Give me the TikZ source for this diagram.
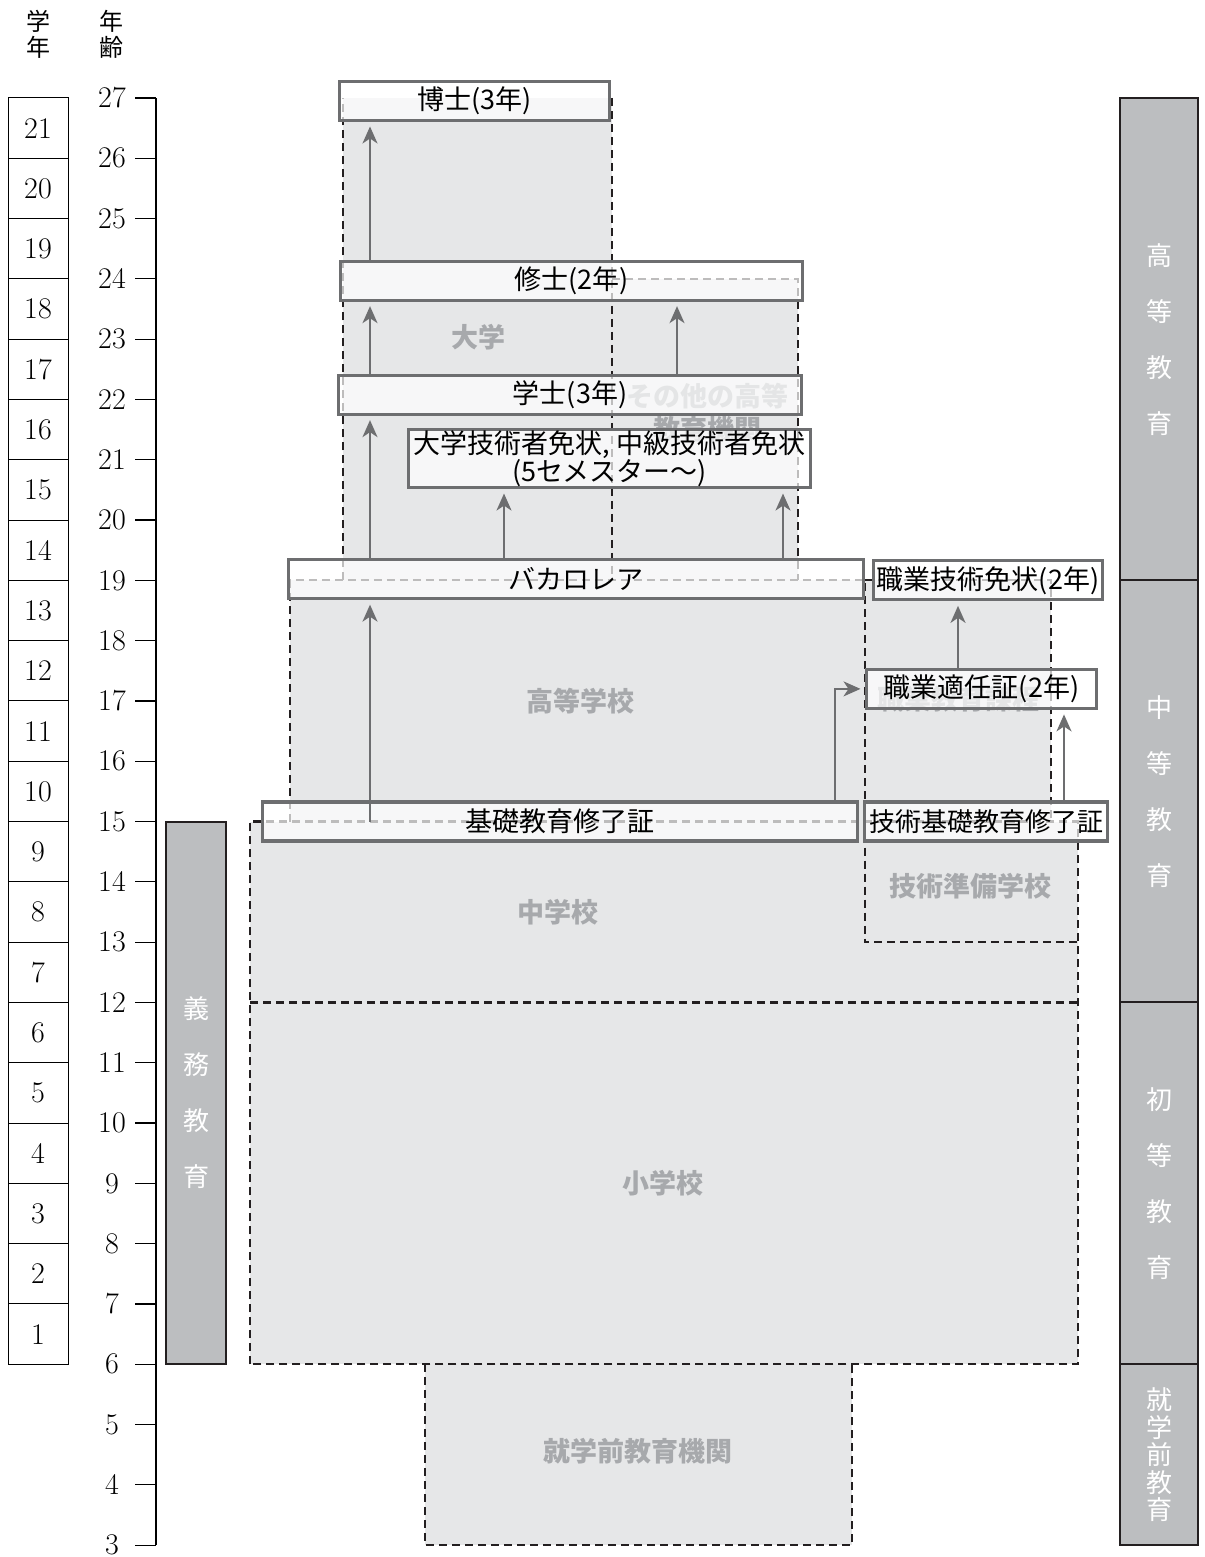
\documentclass[tikz,border=0pt]{standalone}
\usepackage{fontspec}
\usetikzlibrary{arrows.meta}
\newfontfamily\jp{Noto Sans CJK JP}

\definecolor{regfill}{RGB}{230,231,232}
\definecolor{boxline}{RGB}{109,110,112}
\definecolor{reglabel}{RGB}{167,169,172}
\definecolor{barfill}{RGB}{188,190,192}
\definecolor{inkline}{RGB}{35,31,32}

\tikzset{
	region/.style = {fill = regfill},
	regedge/.style = {draw = inkline, line width = 1.1pt, dash pattern = on 4pt off 2.5pt},
	reglab/.style = {text = reglabel, font = \jp\bfseries\fontsize{13.5}{16.5}\selectfont, align = center},
	cert/.style = {draw = boxline, line width = 1.6pt, fill = white, fill opacity = 0.7, text opacity = 1,
		font = \jp\fontsize{13.5}{15}\selectfont, align = center, minimum height = 19.5pt, inner sep = 0pt},
	arr/.style = {draw = boxline, line width = 1pt, shorten > = 2.2pt, -{Stealth[length = 8.5pt, width = 7.5pt, inset = 2.5pt]}},
	bar/.style = {fill = barfill, draw = inkline, line width = 1pt},
	bartext/.style = {text = white, font = \jp\fontsize{13}{28}\selectfont, align = center},
	num/.style = {font = \fontsize{15}{18}\selectfont},
	head/.style = {font = \jp\fontsize{12}{13}\selectfont, align = center}
}

\begin{document}
\begin{tikzpicture}[x = 0.5pt, y = 30.15pt]
	\useasboundingbox (0,2.804) rectangle (1204,28.625);
	% headings
	\node (hgrade) at (38,28.05) [head] {学\\年};
	\node (hage) at (111,28.05) [head] {年\\齢};
	% grade column
	\foreach \g in {1,...,21} {
		\draw [line width = 0.5pt] (8,\g+5) rectangle (68,\g+6);
		\node (g\g) at (38,\g+5.5) [num] {\g};
	}
	% age axis
	\draw [line width = 0.6pt] (156,3) -- (156,27);
	\foreach \a in {3,...,27} {
		\draw [line width = 0.6pt] (135,\a) -- (156,\a);
		\node (age\a) at (112,\a) [num] {\a};
	}
	% schools
	\fill [region] (343,19) rectangle (612,27);
	\fill [region] (612,19) rectangle (798,24);
	\fill [region] (290,15) rectangle (865,19);
	\fill [region] (865,15) rectangle (1051,19);
	\fill [region] (250,6) rectangle (1078,15);
	\fill [region] (425,3) rectangle (852,6);
	\draw [regedge] (343,19) -- (343,27);
	\draw [regedge] (612,27) -- (612,19);
	\draw [regedge] (612,24) -- (798,24) -- (798,19);
	\draw [regedge] (290,15) -- (290,19) -- (865,19) -- (865,15);
	\draw [regedge] (865,19) -- (1051,19) -- (1051,15);
	\draw [regedge] (250,6) rectangle (1078,15);
	\draw [regedge] (250,12) -- (1078,12);
	\draw [regedge] (865,15) -- (865,13) -- (1078,13);
	\draw [regedge] (425,6) -- (425,3) -- (852,3) -- (852,6);
	\node (daigaku) at (478,23.04) [reglab] {大学};
	\node (sonota) at (707,21.78) [reglab] {その他の高等\\教育機関};
	\node (koko) at (580,17) [reglab] {高等学校};
	\node (shokugyo) at (958,17.02) [reglab] {職業教育課程};
	\node (chugaku) at (558,13.5) [reglab] {中学校};
	\node (junbi) at (970,13.93) [reglab] {技術準備学校};
	\node (shogaku) at (663,9) [reglab] {小学校};
	\node (yochi) at (638,4.55) [reglab] {就学前教育機関};
	% certificates
	\node (hakase) at (474.5,26.95) [cert, minimum width = 135pt] {博士(3年)};
	\node (shushi) at (571.5,23.97) [cert, minimum width = 231pt] {修士(2年)};
	\node (gakushi) at (570,22.08) [cert, minimum width = 231.5pt] {学士(3年)};
	\node (menjo) at (609.5,21.02) [cert, minimum width = 201pt, minimum height = 29pt,
		font = \jp\fontsize{13.5}{14}\selectfont] {大学技術者免状, 中級技術者免状\\(5セメスター〜)};
	\node (baka) at (576,19.02) [cert, minimum width = 287.5pt] {バカロレア};
	\node (shokumen) at (988,19) [cert, minimum width = 114.5pt] {職業技術免状(2年)};
	\node (tekinin) at (981.5,17.2) [cert, minimum width = 115pt] {職業適任証(2年)};
	\node (kiso) at (560,15) [cert, minimum width = 297.5pt] {基礎教育修了証};
	\node (gkiso) at (986,15) [cert, minimum width = 121.5pt, font = \jp\fontsize{13}{15}\selectfont] {技術基礎教育修了証};
	% routes
	\coordinate (colA) at (370,0);
	\coordinate (colB) at (504,0);
	\coordinate (colC) at (677,0);
	\coordinate (colD) at (783,0);
	\coordinate (colE) at (835,0);
	\coordinate (colF) at (958,0);
	\coordinate (colG) at (1064,0);
	\draw [arr] (colA |- kiso.center) -- (colA |- baka.south);
	\draw [arr] (colA |- baka.north) -- (colA |- gakushi.south);
	\draw [arr] (colA |- gakushi.north) -- (colA |- shushi.south);
	\draw [arr] (colA |- shushi.north) -- (colA |- hakase.south);
	\draw [arr] (colB |- baka.north) -- (colB |- menjo.south);
	\draw [arr] (colD |- baka.north) -- (colD |- menjo.south);
	\draw [arr] (colC |- gakushi.north) -- (colC |- shushi.south);
	\draw [arr] (colE |- kiso.north) |- (tekinin.west);
	\draw [arr] (colG |- gkiso.north) -- (colG |- tekinin.south);
	\draw [arr] (colF |- tekinin.north) -- (colF |- shokumen.south);
	% stages
	\draw [bar] (166,6) rectangle (226,15);
	\node (gimu) at (196,10.5) [bartext] {義\\務\\教\\育};
	\draw [bar] (1120,19) rectangle (1198,27);
	\draw [bar] (1120,12) rectangle (1198,19);
	\draw [bar] (1120,6) rectangle (1198,12);
	\draw [bar] (1120,3) rectangle (1198,6);
	\node (koto) at (1159,23) [bartext] {高\\等\\教\\育};
	\node (chuto) at (1159,15.5) [bartext] {中\\等\\教\\育};
	\node (shoto) at (1159,9) [bartext] {初\\等\\教\\育};
	\node (shugaku) at (1159,4.5) [bartext, font = \jp\fontsize{13}{13.8}\selectfont] {就\\学\\前\\教\\育};
\end{tikzpicture}
\end{document}
